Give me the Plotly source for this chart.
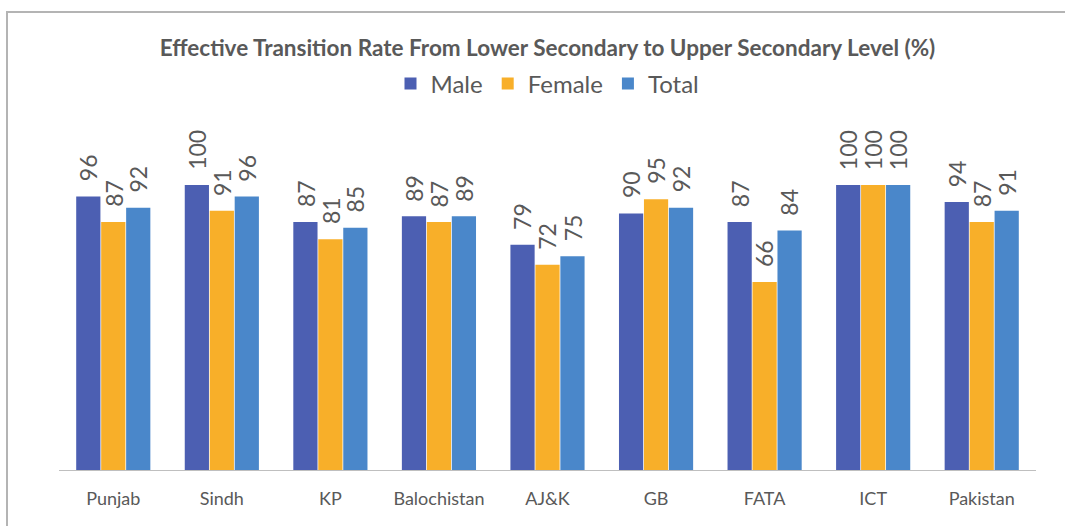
import plotly.graph_objects as go

# Provinces / regions on the category axis
regions = ["Punjab", "Sindh", "KP", "Balochistan", "AJ&K", "GB", "FATA", "ICT", "Pakistan"]

# Effective transition rate, lower secondary -> upper secondary (%)
male = [96, 100, 87, 89, 79, 90, 87, 100, 94]
female = [87, 91, 81, 87, 72, 95, 66, 100, 87]
total = [92, 96, 85, 89, 75, 92, 84, 100, 91]

series = [
    ("Male", male, "#4C5FB2"),
    ("Female", female, "#F8AF29"),
    ("Total", total, "#4A87CA"),
]

text_grey = "#595959"
font_family = "Lato, 'Open Sans', sans-serif"

W, H = 1065, 526
ml, mr, mt, mb = 59, 29, 128, 56
pw, ph = W - ml - mr, H - mt - mb
bargap = 0.31

def px_to_paper_x(px):
    return (px - ml) / pw

def px_to_paper_y(py):
    return (H - mb - py) / ph

fig = go.Figure()
for name, vals, color in series:
    fig.add_trace(go.Bar(
        name=name,
        x=regions,
        y=vals,
        marker=dict(color=color, line=dict(width=0)),
    ))

# Rotated value labels, placed over each bar of the group
bar_px = pw / len(regions) * (1 - bargap) / len(series)
annotations = []
for i, (name, vals, color) in enumerate(series):
    offset = (i - (len(series) - 1) / 2) * bar_px
    for region, v in zip(regions, vals):
        annotations.append(dict(
            x=region,
            y=v,
            xref="x",
            yref="y",
            text=str(v),
            textangle=-90,
            showarrow=False,
            xanchor="center",
            yanchor="bottom",
            xshift=offset,
            yshift=13,
            font=dict(size=23, color=text_grey, family=font_family),
        ))

fig.update_layout(
    width=W,
    height=H,
    margin=dict(l=ml, r=mr, t=mt, b=mb),
    paper_bgcolor="white",
    plot_bgcolor="white",
    barmode="group",
    bargap=bargap,
    bargroupgap=0.03,
    annotations=annotations,
    title=dict(
        text="<b>Effective Transition Rate From Lower Secondary to Upper Secondary Level (%)</b>",
        x=0.5,
        xref="paper",
        y=1 - 48 / H,
        yanchor="middle",
        font=dict(size=22.5, color=text_grey, family=font_family),
    ),
    legend=dict(
        orientation="h",
        x=0.5,
        xanchor="center",
        y=px_to_paper_y(84),
        yanchor="middle",
        font=dict(size=24, color=text_grey, family=font_family),
        itemsizing="constant",
        bgcolor="rgba(0,0,0,0)",
    ),
    xaxis=dict(
        showgrid=False,
        showline=True,
        linecolor="#BFBFBF",
        linewidth=1,
        ticks="",
        tickfont=dict(size=18, color=text_grey, family=font_family),
        ticklabelstandoff=12,
    ),
    yaxis=dict(
        range=[0, 120],
        visible=False,
        showgrid=False,
        zeroline=False,
    ),
    shapes=[
        dict(
            type="rect",
            xref="paper",
            yref="paper",
            x0=px_to_paper_x(7),
            x1=px_to_paper_x(1066),
            y0=px_to_paper_y(540),
            y1=px_to_paper_y(12),
            line=dict(color="#B4B4B4", width=2),
            fillcolor="rgba(0,0,0,0)",
            layer="below",
        )
    ],
)

fig.write_html("out.html")
